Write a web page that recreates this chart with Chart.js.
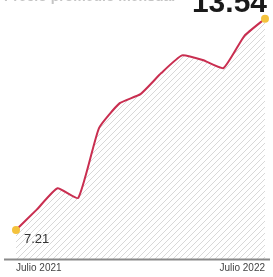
<!DOCTYPE html>
<html>
<head>
<meta charset="utf-8">
<script src="https://cdn.jsdelivr.net/npm/chart.js@4"></script>
<style>
  html, body { margin: 0; padding: 0; background: #fff; overflow: hidden; }
  canvas { display: block; }
</style>
</head>
<body>
<canvas id="priceChart" width="273" height="277"></canvas>
<script>
// Monthly values, July 2021 to July 2022
const months = ['Julio 2021', 'Agosto 2021', 'Septiembre 2021', 'Octubre 2021', 'Noviembre 2021',
  'Diciembre 2021', 'Enero 2022', 'Febrero 2022', 'Marzo 2022', 'Abril 2022', 'Mayo 2022',
  'Junio 2022', 'Julio 2022'];
const prices = [7.21, 7.82, 8.46, 8.17, 10.26, 11.01, 11.28, 11.91, 12.44, 12.30, 12.06, 13.02, 13.54];
const shownTicks = ['Julio 2021', 'Julio 2022'];
const titleText = 'Precio promedio mensual';

// Helper: diagonal hatch pattern for the area fill
function makeHatch() {
  const c = document.createElement('canvas');
  c.width = 6;
  c.height = 6;
  const g = c.getContext('2d');
  g.fillStyle = '#ffffff';
  g.fillRect(0, 0, 6, 6);
  g.strokeStyle = '#d8d8d8';
  g.lineWidth = 1;
  g.beginPath();
  g.moveTo(0, 6); g.lineTo(6, 0);
  g.moveTo(-1, 1); g.lineTo(1, -1);
  g.moveTo(5, 7); g.lineTo(7, 5);
  g.stroke();
  return g.createPattern(c, 'repeat');
}

const ctx = document.getElementById('priceChart').getContext('2d');
const last = prices.length - 1;

// Labels, baseline and title drawn on top
const annotations = {
  id: 'annotations',
  afterDatasetsDraw(chart) {
    const c = chart.ctx;
    const pts = chart.getDatasetMeta(0).data;
    const y = chart.scales.y;
    c.save();

    // baseline
    const by = Math.round(y.getPixelForValue(y.min)) + 0.5;
    c.strokeStyle = '#8a8a8a';
    c.lineWidth = 2;
    c.beginPath();
    c.moveTo(4, by);
    c.lineTo(270, by);
    c.stroke();

    // start value
    c.fillStyle = '#333';
    c.font = '13px "Liberation Sans", Arial, sans-serif';
    c.textAlign = 'left';
    c.textBaseline = 'middle';
    c.fillText(prices[0].toFixed(2), pts[0].x + 8, pts[0].y + 9);

    // end value, big and bold
    c.fillStyle = '#1a1a1a';
    c.font = 'bold 30px "Liberation Sans", Arial, sans-serif';
    c.textAlign = 'right';
    c.textBaseline = 'alphabetic';
    c.fillText(prices[last].toFixed(2), pts[last].x + 2, 12);

    // title, mostly cut off
    c.fillStyle = '#c4c4c4';
    c.font = 'bold 14px "Liberation Sans", Arial, sans-serif';
    c.textAlign = 'left';
    c.fillText(titleText, 4, 1);
    c.restore();
  }
};

new Chart(ctx, {
  type: 'line',
  data: {
    labels: months,
    datasets: [{
      data: prices,
      borderColor: '#c92e50',
      borderWidth: 2,
      backgroundColor: makeHatch(),
      fill: 'start',
      tension: 0.15,
      pointRadius: prices.map((v, i) => (i === 0 || i === last) ? 4 : 0),
      pointBackgroundColor: '#f4c23c',
      pointBorderWidth: 0
    }]
  },
  options: {
    responsive: false,
    animation: false,
    layout: { padding: { left: 16, right: 8, top: 0, bottom: 0 } },
    plugins: {
      legend: { display: false },
      tooltip: { enabled: false }
    },
    scales: {
      x: {
        offset: false,
        grid: { display: false, drawTicks: false },
        border: { display: false },
        ticks: {
          autoSkip: false,
          maxRotation: 0,
          align: 'inner',
          padding: 3,
          color: '#444',
          font: { size: 10, family: '"Liberation Sans", Arial, sans-serif' },
          callback: (val, i) => shownTicks.includes(months[i]) ? months[i] : ''
        }
      },
      y: {
        display: false,
        min: 6.34,
        max: 13.98
      }
    }
  },
  plugins: [annotations]
});
</script>
</body>
</html>
